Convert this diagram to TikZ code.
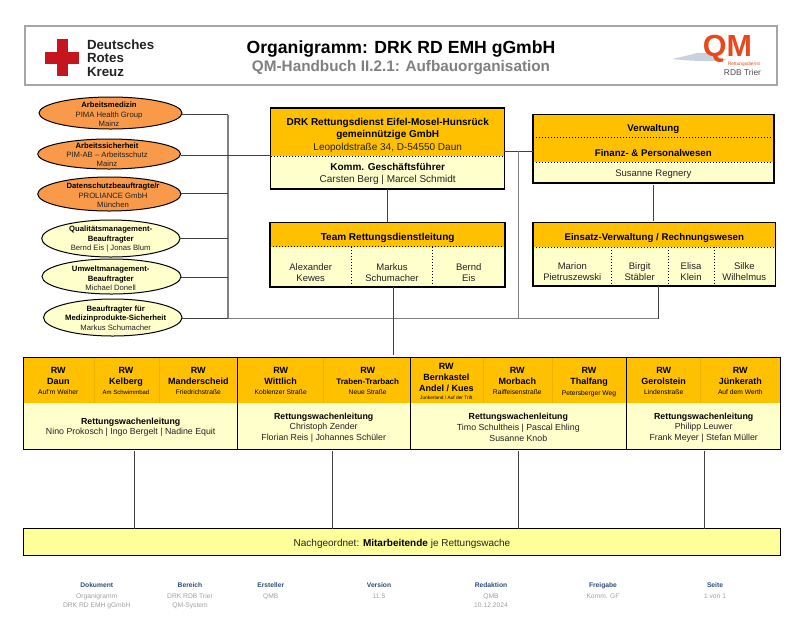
\documentclass[tikz,border=0pt]{standalone}
\usepackage{fontspec}
\setmainfont{Liberation Sans}
\usetikzlibrary{shapes.geometric,calc}
\definecolor{amber}{HTML}{FFC000}
\definecolor{cream}{HTML}{FFFFCC}
\definecolor{paleY}{HTML}{FFFF99}
\definecolor{orangeE}{HTML}{F9994A}
\definecolor{navyT}{HTML}{2F4A7A}
\definecolor{greyT}{HTML}{A0A0A0}
\definecolor{drkred}{HTML}{C4161C}
\definecolor{qmorange}{HTML}{E8481C}
\definecolor{textD}{HTML}{222222}
\definecolor{cloudC}{HTML}{C8D2DE}
\definecolor{faintC}{HTML}{EDB200}
\newcommand\sz[2]{\fontsize{#1}{#2}\selectfont}
% \secbox[style]{name}{x1}{y1}{x2}{y2}
\newcommand\secbox[6][]{\node[rectangle,inner sep=0pt,outer sep=0pt,minimum width=(#5-#3)*1pt,minimum height=(#6-#4)*1pt,#1] (#2) at ({(#3+#5)/2},{(#4+#6)/2}) {};}
% \lab[style]{name}{x}{y}{text}
\newcommand\lab[5][]{\node[lbl,#1] (#2) at (#3,#4) {#5};}
\newcommand\ovalnode[6]{\node[ellipse,draw=black,line width=1pt,inner sep=0pt,outer sep=0pt,minimum width=(#5-#3)*1pt,minimum height=(#6-#4)*1pt,fill=#1] (#2) at ({(#3+#5)/2},{(#4+#6)/2}) {};}
\tikzset{
  lbl/.style={inner sep=0pt,outer sep=0pt,align=center,text=black,font=\sz{9.5}{11}},
  amberfill/.style={fill=amber},
  creamfill/.style={fill=cream},
  frame/.style={draw=black,line width=1.3pt},
  dots/.style={black,line width=1pt,dash pattern=on 1pt off 2pt},
  conn/.style={draw=black!75,line width=0.9pt},
  trunk/.style={draw=black!50,line width=1.4pt},
  faint/.style={draw=faintC,line width=0.4pt},
  sep/.style={draw=black,line width=1.2pt},
  elltx/.style={font=\sz{7.7}{9.4},text=textD},
  foothead/.style={font=\bfseries\sz{6.7}{9},text=navyT},
  foottx/.style={font=\sz{6.7}{9.2},text=greyT},
  rwtx/.style={font=\bfseries\sz{9}{10.6}},
  rwlead/.style={font=\sz{8.8}{10.7},text=textD}
}
\newcommand\addr[1]{{\normalfont\sz{6.7}{9}#1}}
\begin{document}
\begin{tikzpicture}[x=1pt,y=-1pt]
\useasboundingbox (0,0) rectangle (800,630);
% header
\secbox[draw=black!35,line width=1.2pt]{head}{25}{26}{777}{85}
\secbox[fill=drkred]{crossH}{44.7}{51.7}{79}{63.7}
\secbox[fill=drkred]{crossV}{56.7}{39}{67.7}{76}
\lab[anchor=west,font=\sz{13.3}{13.2},text=textD]{drkname}{87}{60}{\begin{tabular}{@{}l@{}}\textbf{Deutsches}\\[0pt]\textbf{Rotes}\\[0pt]\textbf{Kreuz}\end{tabular}}
\lab[font=\bfseries\sz{17.6}{20}]{title}{401}{49}{Organigramm: DRK RD EMH gGmbH}
\lab[font=\bfseries\sz{15.3}{18},text=black!50]{subtitle}{401}{67.7}{QM-Handbuch II.2.1: Aufbauorganisation}
% QM logo
\fill[cloudC] (672,59) .. controls (685,56) and (690,55) .. (697,53) .. controls (705,52) and (712,54) .. (720,57) -- (727,60) .. controls (715,62) and (690,61) .. (672,59) -- cycle;
\lab[font=\bfseries\sz{30.5}{30},text=qmorange]{qm}{727.5}{49}{QM}
\lab[anchor=east,font=\sz{4.8}{5},text=qmorange]{qmsub}{760}{64.3}{Rettungsdienst}
\lab[font=\sz{8.4}{10},text=black!70]{qmrdb}{742.5}{72}{RDB Trier}
% ellipses
\ovalnode{orangeE}{e1}{39}{97}{182}{129}
\ovalnode{orangeE}{e2}{37.7}{139}{180.5}{169}
\ovalnode{orangeE}{e3}{37.7}{177}{181}{211}
\ovalnode{cream}{e4}{41.7}{220}{180}{257}
\ovalnode{cream}{e5}{42}{259}{181}{294}
\ovalnode{cream}{e6}{43.5}{299}{182}{336}
\lab[elltx]{e1t}{109}{114.5}{\textbf{\textcolor{black}{Arbeitsmedizin}}\\PIMA Health Group\\Mainz}
\lab[elltx]{e2t}{107}{154.8}{\textbf{\textcolor{black}{Arbeitssicherheit}}\\PIM-AB – Arbeitsschutz\\Mainz}
\lab[elltx]{e3t}{113}{195.4}{\textbf{\textcolor{black}{Datenschutzbeauftragte/r}}\\PROLIANCE GmbH\\München}
\lab[elltx]{e4t}{110.7}{239.2}{\textbf{\textcolor{black}{Qualitätsmanagement-}}\\\textbf{\textcolor{black}{Beauftragter}}\\Bernd Eis | Jonas Blum}
\lab[elltx]{e5t}{110.7}{278.5}{\textbf{\textcolor{black}{Umweltmanagement-}}\\\textbf{\textcolor{black}{Beauftragter}}\\Michael Donell}
\lab[elltx]{e6t}{115.7}{318.2}{\textbf{\textcolor{black}{Beauftragter für}}\\\textbf{\textcolor{black}{Medizinprodukte-Sicherheit}}\\Markus Schumacher}
% central box
\secbox[amberfill]{drktop}{270.7}{108}{504.3}{156}
\secbox[creamfill]{drkbot}{270.7}{156}{504.3}{189}
\secbox[frame]{drk}{270.7}{108}{504.3}{189}
\draw[dots] (drktop.south west) -- (drktop.south east);
\lab[font=\sz{10}{12.3},text=textD]{drkt}{387.7}{135.4}{\textbf{\textcolor{black}{DRK Rettungsdienst Eifel-Mosel-Hunsrück}}\\\textbf{\textcolor{black}{gemeinnützige GmbH}}\\Leopoldstraße 34, D-54550 Daun}
\lab[font=\sz{10}{12},text=textD]{drkb}{387.7}{174.2}{\textbf{\textcolor{black}{Komm. Geschäftsführer}}\\Carsten Berg | Marcel Schmidt}
% team
\secbox[amberfill]{teamtop}{270}{222.3}{505}{246.7}
\secbox[creamfill]{teambot}{270}{246.7}{505}{287}
\secbox[frame]{team}{270}{222.3}{505}{287}
\draw[dots] (teamtop.south west) -- (teamtop.south east);
\coordinate (td1) at (351.7,246.7);
\coordinate (td2) at (432.7,246.7);
\draw[dots] (td1) -- (td1 |- team.south);
\draw[dots] (td2) -- (td2 |- team.south);
\lab[font=\bfseries\sz{10}{12}]{teamt}{387.7}{238}{Team Rettungsdienstleitung}
\lab[text=textD]{tm1}{310.7}{272.2}{Alexander\\Kewes}
\lab[text=textD]{tm2}{392}{272.2}{Markus\\Schumacher}
\lab[text=textD]{tm3}{468.7}{272.2}{Bernd\\Eis}
% Verwaltung
\secbox[amberfill]{vwtop}{533}{114.7}{774}{162.3}
\secbox[creamfill]{vwbot}{533}{162.3}{774}{183}
\secbox[frame]{vw}{533}{114.7}{774}{183}
\coordinate (vd) at (533,137.7);
\draw[dots] (vd) -- (vd -| vw.east);
\draw[dots] (vwtop.south west) -- (vwtop.south east);
\lab[font=\bfseries\sz{9.7}{12}]{vw1}{653.3}{129.3}{Verwaltung}
\lab[font=\bfseries\sz{9.7}{12}]{vw2}{653.3}{153.5}{Finanz- \& Personalwesen}
\lab[text=textD]{vw3}{653.3}{174}{Susanne Regnery}
% Einsatz
\secbox[amberfill]{eitop}{533}{222.7}{775.5}{247}
\secbox[creamfill]{eibot}{533}{247}{775.5}{286}
\secbox[frame]{ei}{533}{222.7}{775.5}{286}
\draw[dots] (eitop.south west) -- (eitop.south east);
\foreach \n/\x in {ed1/611,ed2/668,ed3/714}{\coordinate (\n) at (\x,247); \draw[dots] (\n) -- (\n |- ei.south);}
\lab[font=\bfseries\sz{9.7}{12}]{eit}{654.3}{238.5}{Einsatz-Verwaltung / Rechnungswesen}
\lab[text=textD]{ei1}{572.3}{271.2}{Marion\\Pietruszewski}
\lab[text=textD]{ei2}{639.7}{271.2}{Birgit\\Stäbler}
\lab[text=textD]{ei3}{691}{271.2}{Elisa\\Klein}
\lab[text=textD]{ei4}{744.3}{271.2}{Silke\\Wilhelmus}
% RW band
\secbox[amberfill]{bandtop}{23.3}{357.3}{780.7}{403.3}
\secbox[creamfill]{bandbot}{23.3}{403.3}{780.7}{449.3}
\foreach \n/\x in {f1/93.7,f2/159,f3/323,f4/482.7,f5/552,f6/700.3}{\coordinate (\n) at (\x,357.3); \draw[faint] (\n) -- (\n |- bandtop.south);}
\secbox[frame]{band}{23.3}{357.3}{780.7}{449.3}
\foreach \n/\x in {s1/237.7,s2/410.4,s3/626.7}{\coordinate (\n) at (\x,357.3); \draw[sep] (\n) -- (\n |- band.south);}
\lab[rwtx]{rw1}{58.3}{381.2}{RW\\Daun\\\addr{Auf'm Weiher}}
\lab[rwtx]{rw2}{126}{381.2}{RW\\Kelberg\\{\normalfont\sz{6}{9}Am Schwimmbad}}
\lab[rwtx]{rw3}{198.3}{381.2}{RW\\Manderscheid\\\addr{Friedrichstraße}}
\lab[rwtx]{rw4}{280.7}{381.2}{RW\\Wittlich\\\addr{Koblenzer Straße}}
\lab[rwtx]{rw5}{367.7}{381.2}{RW\\{\sz{8}{10}Traben-Trarbach}\\\addr{Neue Straße}}
\lab[rwtx]{rw6}{446.3}{381.4}{RW\\Bernkastel\\Andel / Kues\\[-2.5pt]{\normalfont\sz{4.8}{6}Junkerland / Auf der Trift}}
\lab[rwtx]{rw7}{517.3}{381.2}{RW\\Morbach\\\addr{Raiffeisenstraße}}
\lab[rwtx]{rw8}{589}{382}{RW\\Thalfang\\\addr{Petersberger Weg}}
\lab[rwtx]{rw9}{663.7}{381.2}{RW\\Gerolstein\\\addr{Lindenstraße}}
\lab[rwtx]{rw10}{740.3}{381.2}{RW\\Jünkerath\\\addr{Auf dem Werth}}
\lab[rwlead]{rl1}{130.7}{427.3}{\textbf{\textcolor{black}{Rettungswachenleitung}}\\Nino Prokosch | Ingo Bergelt | Nadine Equit}
\lab[rwlead]{rl2}{323.7}{427.5}{\textbf{\textcolor{black}{Rettungswachenleitung}}\\Christoph Zender\\Florian Reis | Johannes Schüler}
\lab[rwlead]{rl3}{518.3}{427.5}{\textbf{\textcolor{black}{Rettungswachenleitung}}\\Timo Schultheis | Pascal Ehling\\Susanne Knob}
\lab[rwlead]{rl4}{703.7}{427.5}{\textbf{\textcolor{black}{Rettungswachenleitung}}\\Philipp Leuwer\\Frank Meyer | Stefan Müller}
% Mitarbeitende
\secbox[fill=paleY,frame]{staff}{23.3}{528.7}{780.7}{555.3}
\lab[text=textD,font=\sz{10}{12}]{stafft}{402}{543.7}{Nachgeordnet: \textbf{\textcolor{black}{Mitarbeitende}} je Rettungswache}
% connectors
\coordinate (tr1) at (228,114.5);
\coordinate (tr2) at (228,318.7);
\draw[trunk] (tr1) -- (tr2);
\coordinate (r3) at (228,193.7);
\coordinate (r4) at (228,238.7);
\coordinate (r5) at (228,277);
\draw[conn] (e1.east |- tr1) -- (tr1);
\coordinate (r2) at (228,155.7);
\draw[conn] (e2.east |- r2) -- (drk.west |- r2);
\draw[conn] (e3.east |- r3) -- (r3);
\draw[conn] (e4.east |- r4) -- (r4);
\draw[conn] (e5.east |- r5) -- (r5);
\draw[conn] (e6.east |- tr2) -- (tr2);
\coordinate (c658) at (658,286);
\draw[trunk] (tr2) -- (tr2 -| c658);
\draw[conn] (tr2 -| c658) -- (ei.south -| c658);
\draw[conn] (drk.south) -- (team.north -| drk.south);
\coordinate (c394) at (393.7,287);
\draw[conn,shorten >=2pt] (team.south -| c394) -- (band.north -| c394);
\coordinate (h151) at (504,151);
\draw[conn] (drk.east |- h151) -- (vw.west |- h151);
\coordinate (c518) at (518.3,151);
\draw[trunk] (c518) -- (c518 |- tr2);
\draw[conn,shorten <=2pt,shorten >=2pt] (vw.south) -- (ei.north -| vw.south);
\foreach \n/\x in {d1/134.3,d2/332.3,d3/518.3,d4/704}{\coordinate (\n) at (\x,449); \draw[conn,shorten <=1.5pt] (band.south -| \n) -- (staff.north -| \n);}
% footer
\foreach \n/\x/\hd/\ftx in {
 ft1/96.7/Dokument/{Organigramm\\DRK RD EMH gGmbH},
 ft2/190/Bereich/{DRK RDB Trier\\QM-System},
 ft3/270.7/Ersteller/{QMB},
 ft4/379/Version/{11.5},
 ft5/491/Redaktion/{QMB\\10.12.2024},
 ft6/603/Freigabe/{Komm. GF},
 ft7/715/Seite/{1 von 1}}{
  \node[lbl,foothead] (\n h) at (\x,585.5) {\hd};
  \node[lbl,foottx,anchor=north] (\n t) at (\x,593.7) {\ftx};
}
\end{tikzpicture}
\end{document}
